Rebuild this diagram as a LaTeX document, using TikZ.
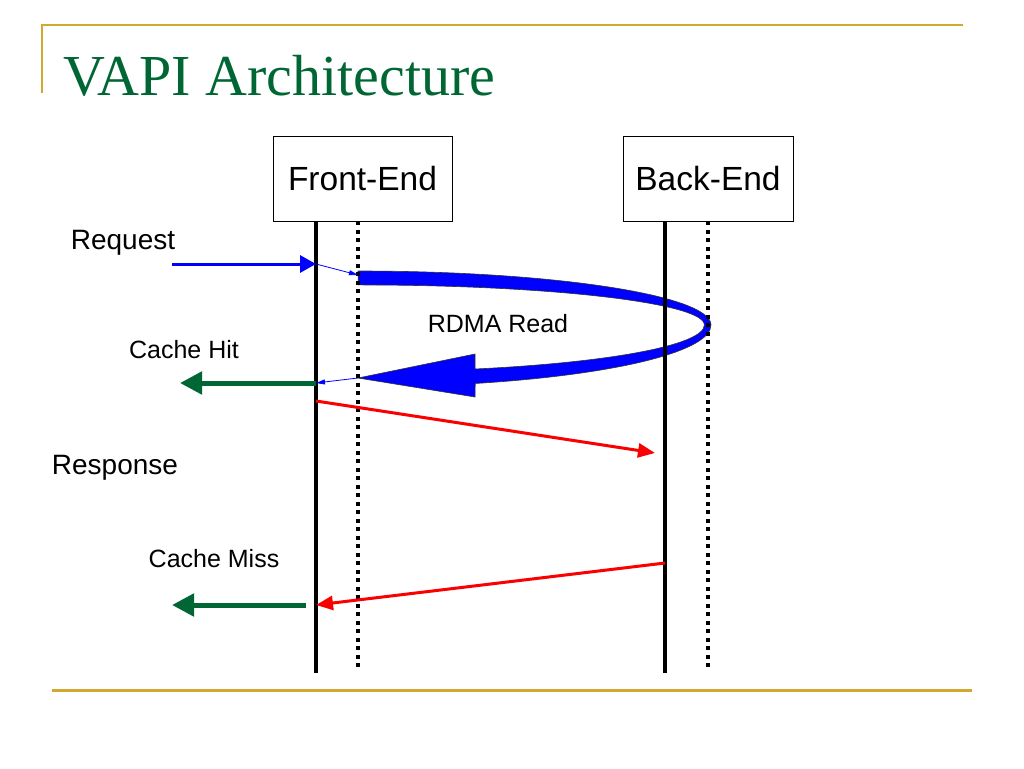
\documentclass[tikz,border=0pt]{standalone}
\usepackage{fontspec}
\setmainfont{Liberation Sans}
\newfontfamily\titlefont{Liberation Serif}
\usetikzlibrary{arrows.meta,positioning,calc}
\definecolor{slidegold}{RGB}{210,168,48}
\definecolor{slidegreen}{RGB}{0,102,51}
\definecolor{rdmablue}{RGB}{0,0,255}
\definecolor{msgred}{RGB}{250,0,0}
\tikzset{
  endbox/.style={draw,line width=0.8pt,minimum width=179pt,minimum height=85pt,inner sep=0pt,font=\fontsize{33.5}{40}\selectfont},
  lifeline/.style={line width=4pt},
  dotline/.style={line width=4pt,dash pattern=on 4pt off 4.5pt},
  reqarrow/.style={rdmablue,line width=3pt,-{Triangle[length=16pt,width=17pt]}},
  thinarrow/.style={rdmablue,line width=0.8pt,-{Triangle[length=9pt,width=5pt]}},
  hitarrow/.style={slidegreen,line width=5pt,-{Triangle[length=22pt,width=22pt]}},
  msgarrow/.style={msgred,line width=3pt,-{Triangle[length=17pt,width=14pt]}},
  biglabel/.style={font=\fontsize{28}{32}\selectfont},
  smalllabel/.style={font=\fontsize{25}{30}\selectfont}
}
\begin{document}
\begin{tikzpicture}[x=1pt,y=1pt]
\useasboundingbox (0,0) rectangle (1024,-768);
% slide frame
\draw[slidegold,line width=2pt] (42,-93) -- (42,-25) -- (963,-25);
\draw[slidegold,line width=3pt] (52,-690) -- (972,-690);
\node[anchor=base west,inner sep=0pt,text=slidegreen,font=\titlefont\fontsize{58}{62}\selectfont] (title) at (63,-95) {VAPI Architecture};
% the two ends
\node[endbox] (fe) at (362.5,-178.5) {Front-End};
\node[endbox,minimum width=170pt] (be) at (708,-178.5) {Back-End};
\coordinate (feBot) at (316,-673);
\coordinate (feDotBot) at (358,-668);
\coordinate (beBot) at (665,-673);
\coordinate (beDotBot) at (708,-668);
% rdma read ribbon
\coordinate (rdmaStart) at (358,-271);
\fill[rdmablue,draw=black!80,line width=0.6pt] (rdmaStart)
  arc (90:0:353 and 54)
  arc (0:-70.6:353 and 62)
  -- (475,-397) -- (358,-378) -- (475,-354) -- (475,-369.0)
  arc (-70.3:0:346 and 46.8)
  arc (0:90:346 and 40) -- cycle;
% life lines
\draw[lifeline] (feBot |- fe.south) -- (feBot);
\draw[dotline] (feDotBot |- fe.south) -- (feDotBot);
\draw[lifeline] (beBot |- be.south) -- (beBot);
\draw[dotline] (beDotBot |- be.south) -- (beDotBot);
% messages
\coordinate (reqIn) at (172,-264);
\coordinate (reqFE) at (316,-264);
\coordinate (rdmaOut) at (358,-275);
\coordinate (rdmaIn) at (358,-378);
\coordinate (hitFE) at (316,-383);
\coordinate (hitOut) at (180,-383);
\coordinate (missFE) at (316,-401);
\coordinate (missBE) at (655,-453);
\coordinate (respBE) at (665,-563);
\coordinate (respFE) at (316,-605);
\coordinate (respStart) at (306,-605);
\coordinate (respOut) at (172,-605);
\draw[reqarrow] (reqIn) -- (reqFE);
\draw[thinarrow] (reqFE) -- (rdmaOut);
\draw[thinarrow] (rdmaIn) -- (hitFE);
\draw[hitarrow] (hitFE) -- (hitOut);
\draw[msgarrow] (missFE) -- (missBE);
\draw[msgarrow] (respBE) -- (respFE);
\draw[hitarrow] (respStart) -- (respOut);
% labels
\node[biglabel] (request) at (123,-243) {Request};
\node[smalllabel] (cachehit) at (184,-350) {Cache Hit};
\node[smalllabel] (rdmaread) at (498,-324) {RDMA Read};
\node[biglabel] (response) at (115,-468) {Response};
\node[smalllabel] (cachemiss) at (214,-559) {Cache Miss};
\end{tikzpicture}
\end{document}
